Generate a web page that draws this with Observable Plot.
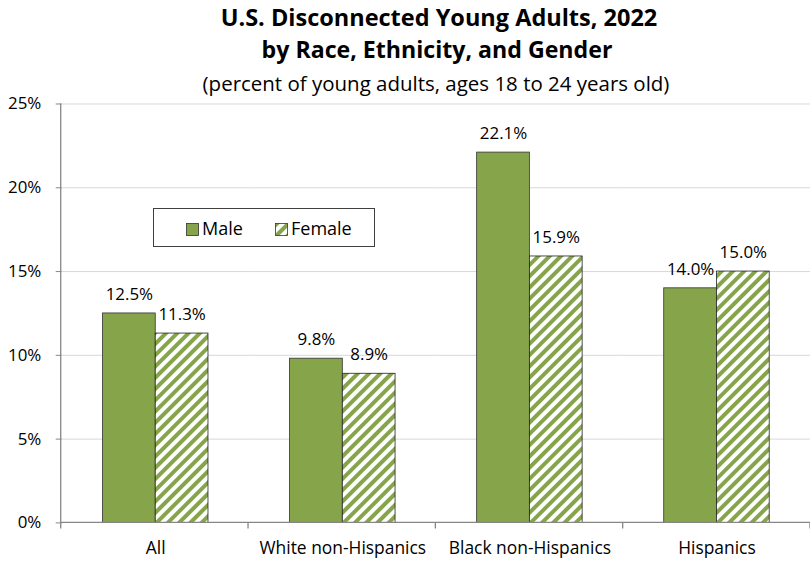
<!DOCTYPE html>
<html>
<head>
<meta charset="utf-8">
<script src="https://cdn.jsdelivr.net/npm/d3@7"></script>
<script src="https://cdn.jsdelivr.net/npm/@observablehq/plot@0.6"></script>
<style>
  html, body { margin: 0; padding: 0; background: #fff; overflow: hidden; }
  #wrap { position: relative; width: 810px; height: 561px; overflow: hidden; font-family: "Open Sans", sans-serif; }
  #wrap svg { display: block; }
  .overlay { position: absolute; left: 0; top: 0; pointer-events: none; }
</style>
</head>
<body>
<div id="wrap"></div>
<script>
// ---- data ----
const categories = ["All", "White non-Hispanics", "Black non-Hispanics", "Hispanics"];
const genders = ["Male", "Female"];
const maleValues = [12.5, 9.8, 22.1, 14.0];
const femaleValues = [11.3, 8.9, 15.9, 15.0];
const yTicks = [0, 5, 10, 15, 20, 25];
const titleLines = ["U.S. Disconnected Young Adults, 2022", "by Race, Ethnicity, and Gender"];
const subtitle = "(percent of young adults, ages 18 to 24 years old)";

const GREEN = "#86a44a";
const FONT = "'Open Sans', sans-serif";

const rows = categories.flatMap((c, i) => [
  {category: c, gender: "Male", value: maleValues[i]},
  {category: c, gender: "Female", value: femaleValues[i]}
]);
const maleRows = rows.filter(d => d.gender === "Male");
const femaleRows = rows.filter(d => d.gender === "Female");

const wrap = document.getElementById("wrap");

// pattern defs (shared in document)
const defs = d3.create("svg").attr("width", 0).attr("height", 0)
  .style("position", "absolute");
const pat = defs.append("defs").append("pattern")
  .attr("id", "stripes").attr("patternUnits", "userSpaceOnUse")
  .attr("width", 8).attr("height", 8)
  .attr("patternTransform", "rotate(45)");
pat.append("rect").attr("width", 8).attr("height", 8).attr("fill", "#fff");
pat.append("rect").attr("width", 4).attr("height", 8).attr("fill", GREEN);
wrap.appendChild(defs.node());

const plot = Plot.plot({
  width: 814,
  height: 561,
  marginTop: 104,
  marginBottom: 36,
  marginLeft: 61,
  marginRight: 0,
  style: {fontFamily: FONT, fontSize: "17px", color: "#000", background: "transparent"},
  fx: {domain: categories, padding: 0, label: null, axis: "bottom", tickSize: 0, tickPadding: 19},
  x: {domain: genders, paddingInner: 0, paddingOuter: 0.745, axis: null},
  y: {domain: [0, 25], ticks: yTicks, tickFormat: d => d + "%", label: null, tickSize: 6, tickPadding: 15},
  marks: [
    Plot.gridY(yTicks.filter(d => d > 0), {stroke: "#d9d9d9", strokeOpacity: 1}),
    Plot.barY(maleRows, {fx: "category", x: "gender", y: "value", fill: GREEN, stroke: "#333", strokeWidth: 0.8}),
    Plot.barY(femaleRows, {fx: "category", x: "gender", y: "value", fill: "url(#stripes)", stroke: "#222", strokeWidth: 0.8}),
    Plot.text(rows, {fx: "category", x: "gender", y: "value", text: d => d.value.toFixed(1) + "%",
      lineAnchor: "middle", dy: -19, fontSize: 17, fill: "#000"})
  ]
});
wrap.appendChild(plot);

// axis lines and boundary ticks from the library's scales
const sy = plot.scale("y");
const yScale = d3.scaleLinear(sy.domain, sy.range);
const sfx = plot.scale("fx");
const fxScale = d3.scaleBand(sfx.domain, sfx.range).paddingInner(sfx.paddingInner ?? 0).paddingOuter(sfx.paddingOuter ?? 0);
const svg = d3.select(plot);
svg.selectAll("[aria-label='y-axis tick'] path, [aria-label='y-axis tick'] line").attr("stroke", "#868686");
svg.selectAll("[aria-label='fx-axis tick label'] text, [aria-label='fx-axis tick label']").attr("font-size", 17.5);
const g = svg.append("g").attr("stroke", "#868686").attr("stroke-width", 1.3);
const y0 = yScale(0);
const xLeft = fxScale.range()[0], xRight = fxScale.range()[1];
g.append("line").attr("x1", xLeft).attr("x2", xRight).attr("y1", y0).attr("y2", y0);
g.append("line").attr("x1", xLeft).attr("x2", xLeft).attr("y1", yScale(25)).attr("y2", y0);
const edges = categories.map(c => fxScale(c)).concat([fxScale(categories[categories.length - 1]) + fxScale.step()]);
g.selectAll(".bt").data(edges).join("line")
  .attr("x1", d => d).attr("x2", d => d).attr("y1", y0).attr("y2", y0 + 6);

// header overlay (title + subtitle)
const header = d3.create("svg").attr("class", "overlay").attr("width", 810).attr("height", 100)
  .style("font-family", FONT);
wrap.appendChild(header.node());
function fitText(x, y, size, weight, str, target) {
  const t = header.append("text").attr("x", x).attr("y", y).attr("text-anchor", "middle")
    .attr("font-size", size).attr("font-weight", weight).text(str);
  const w = t.node().getComputedTextLength();
  if (w > 0) t.attr("font-size", size * target / w);
  return t;
}
fitText(439, 26, 21, "bold", titleLines[0], 437);
fitText(437, 58, 21, "bold", titleLines[1], 351);
fitText(436, 91, 18.5, "normal", subtitle, 467);

// legend (overlay)
const legend = d3.create("svg").attr("class", "overlay").attr("width", 810).attr("height", 561)
  .style("font-family", FONT);
legend.append("rect").attr("x", 153.5).attr("y", 208.5).attr("width", 221).attr("height", 38)
  .attr("fill", "#fff").attr("stroke", "#404040").attr("stroke-width", 1);
const legendItems = [
  {label: genders[0], fill: GREEN, x: 186},
  {label: genders[1], fill: "url(#stripes)", x: 275}
];
legendItems.forEach(it => {
  legend.append("rect").attr("x", it.x + 0.5).attr("y", 223.5).attr("width", 12).attr("height", 12)
    .attr("fill", it.fill).attr("stroke", "#333").attr("stroke-width", 0.8);
  legend.append("text").attr("x", it.x + 16).attr("y", 234.5).attr("font-size", 18).text(it.label);
});
wrap.appendChild(legend.node());
</script>
</body>
</html>
